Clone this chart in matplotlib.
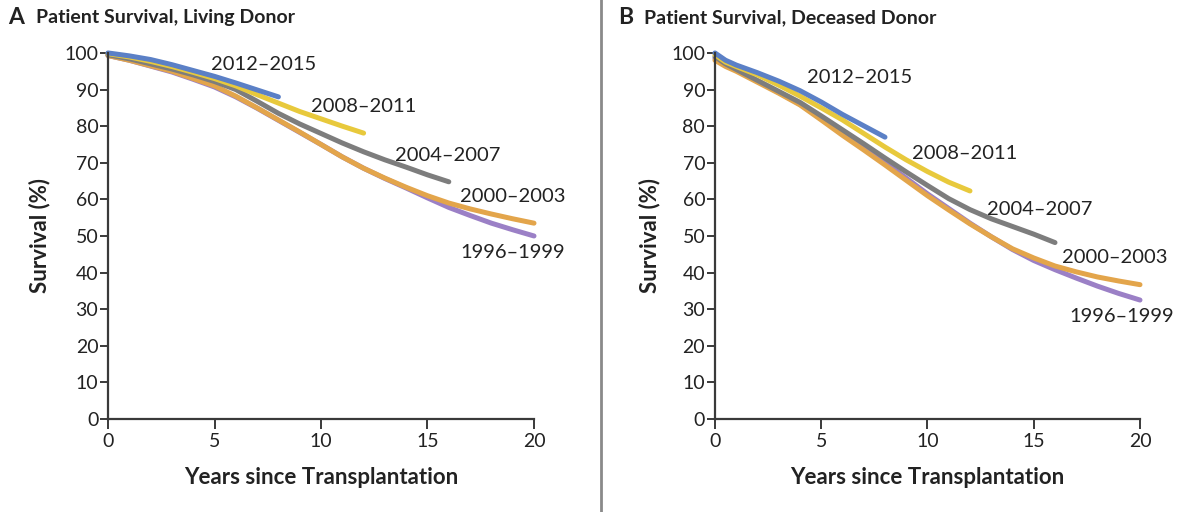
import matplotlib
matplotlib.use("Agg")
import matplotlib.pyplot as plt

# Kaplan-Meier style survival curves, percent
labels = ["1996\u20131999", "2000\u20132003", "2004\u20132007", "2008\u20132011", "2012\u20132015"]
colors = ["#9b80c6", "#e3a54b", "#7d7d7d", "#e8c93c", "#5b80c6"]

# Panel A: living donor
a_x_96 = list(range(0, 21))
a_y_96 = [99.3, 98.0, 96.4, 94.8, 92.8, 90.7, 88.0, 84.9, 81.6, 78.3, 75.0,
          71.6, 68.5, 65.7, 63.1, 60.4, 57.8, 55.6, 53.5, 51.7, 50.0]
a_x_00 = list(range(0, 21))
a_y_00 = [99.3, 98.0, 96.5, 95.0, 93.0, 91.0, 88.2, 85.0, 81.7, 78.4, 75.0,
          71.6, 68.5, 65.8, 63.3, 61.0, 59.0, 57.4, 56.0, 54.7, 53.5]
a_x_04 = list(range(0, 17))
a_y_04 = [99.5, 98.4, 97.0, 95.6, 94.0, 92.2, 90.0, 86.8, 83.5, 80.6, 78.0,
          75.4, 73.0, 70.8, 68.8, 66.7, 64.8]
a_x_08 = list(range(0, 13))
a_y_08 = [99.8, 98.9, 97.7, 96.3, 94.7, 93.0, 91.0, 88.6, 86.3, 84.0, 82.0, 80.0, 78.1]
a_x_12 = list(range(0, 9))
a_y_12 = [100.0, 99.2, 98.2, 96.8, 95.2, 93.6, 91.8, 89.9, 88.0]

# Panel B: deceased donor
b_x_96 = [0, 0.5] + list(range(1, 21))
b_y_96 = [98.5, 96.6, 95.3, 92.3, 89.2, 86.0, 82.0, 78.0, 74.0, 70.0, 65.8,
          61.5, 57.5, 53.5, 49.8, 46.3, 43.3, 40.8, 38.5, 36.3, 34.3, 32.5]
b_x_00 = [0, 0.5] + list(range(1, 21))
b_y_00 = [98.0, 96.3, 95.0, 92.0, 89.0, 85.8, 81.7, 77.5, 73.5, 69.4, 65.2,
          61.0, 57.1, 53.3, 49.8, 46.5, 44.0, 41.8, 40.2, 38.8, 37.7, 36.7]
b_x_04 = [0, 0.5] + list(range(1, 17))
b_y_04 = [99.0, 97.0, 95.5, 92.5, 89.5, 86.5, 82.8, 79.0, 75.2, 71.3, 67.5,
          63.8, 60.2, 57.2, 54.7, 52.6, 50.5, 48.2]
b_x_08 = [0, 0.5] + list(range(1, 13))
b_y_08 = [99.5, 97.5, 96.3, 94.0, 91.2, 88.2, 85.0, 81.7, 78.0, 74.3, 70.8, 67.6, 64.7, 62.3]
b_x_12 = [0, 0.5] + list(range(1, 9))
b_y_12 = [100.0, 98.0, 96.7, 94.6, 92.3, 89.7, 86.6, 83.2, 80.1, 77.0]

# label positions (data coordinates)
a_label_pos = [(19.0, 45.4), (19.0, 60.7), (15.96, 72.1), (12.0, 85.5), (7.3, 96.8)]
b_label_pos = [(19.15, 27.9), (18.8, 44.0), (15.3, 57.1), (11.75, 72.6), (6.8, 93.4)]

panels = [
    ("A", "Patient Survival, Living Donor",
     [(a_x_96, a_y_96), (a_x_00, a_y_00), (a_x_04, a_y_04), (a_x_08, a_y_08), (a_x_12, a_y_12)],
     a_label_pos),
    ("B", "Patient Survival, Deceased Donor",
     [(b_x_96, b_y_96), (b_x_00, b_y_00), (b_x_04, b_y_04), (b_x_08, b_y_08), (b_x_12, b_y_12)],
     b_label_pos),
]

plt.rcParams['font.family'] = ['Lato', 'DejaVu Sans']
text_col = "#222222"
axis_col = "#3a3a3a"

fig = plt.figure(figsize=(12, 5.12), dpi=100)
rects = [[0.09, 0.1816, 0.355, 0.715], [0.5958, 0.1816, 0.3542, 0.715]]
letter_x = [0.007, 0.515]
title_x = [0.030, 0.537]
ylab_x = [-0.16, -0.153]

for i, (letter, title, series, label_pos) in enumerate(panels):
    ax = fig.add_axes(rects[i])
    for (xs, ys), col, lab, (lx, ly) in zip(series, colors, labels, label_pos):
        ax.plot(xs, ys, color=col, lw=3.6, solid_capstyle='round',
                solid_joinstyle='round', clip_on=False)
        ax.text(lx, ly, lab, ha='center', va='center', fontsize=14.5, color=text_col)

    ax.set_xlim(0, 20)
    ax.set_ylim(0, 100)
    ax.set_xticks([0, 5, 10, 15, 20])
    ax.set_yticks(range(0, 101, 10))
    for s in ['top', 'right']:
        ax.spines[s].set_visible(False)
    for s in ['left', 'bottom']:
        ax.spines[s].set_color(axis_col)
        ax.spines[s].set_linewidth(1.6)
    ax.tick_params(axis='y', direction='out', length=6, width=1.4, color=axis_col,
                   labelsize=14, labelcolor=text_col, pad=1)
    ax.tick_params(axis='x', direction='out', length=7, width=1.4, color=axis_col,
                   labelsize=14, labelcolor=text_col, pad=3)

    ax.set_ylabel("Survival (%)", fontsize=16, fontweight='bold', color=text_col)
    ax.yaxis.set_label_coords(ylab_x[i], 0.5)
    ax.yaxis.label.set_va('center')
    ax.set_xlabel("Years since Transplantation", fontsize=16, fontweight='bold', color=text_col)
    ax.xaxis.set_label_coords(0.5, -0.161)
    ax.xaxis.label.set_va('center')

    fig.text(letter_x[i], 0.965, letter, fontsize=16.5, fontweight='bold',
             color=text_col, va='center', ha='left')
    fig.text(title_x[i], 0.965, title, fontsize=14, fontweight='bold',
             color=text_col, va='center', ha='left')

# divider between the panels
fig.add_artist(plt.Line2D([0.5008, 0.5008], [0, 1], color="#8a8a8a", lw=2,
                          transform=fig.transFigure))

fig.savefig("out.png", dpi=100, facecolor='white')
